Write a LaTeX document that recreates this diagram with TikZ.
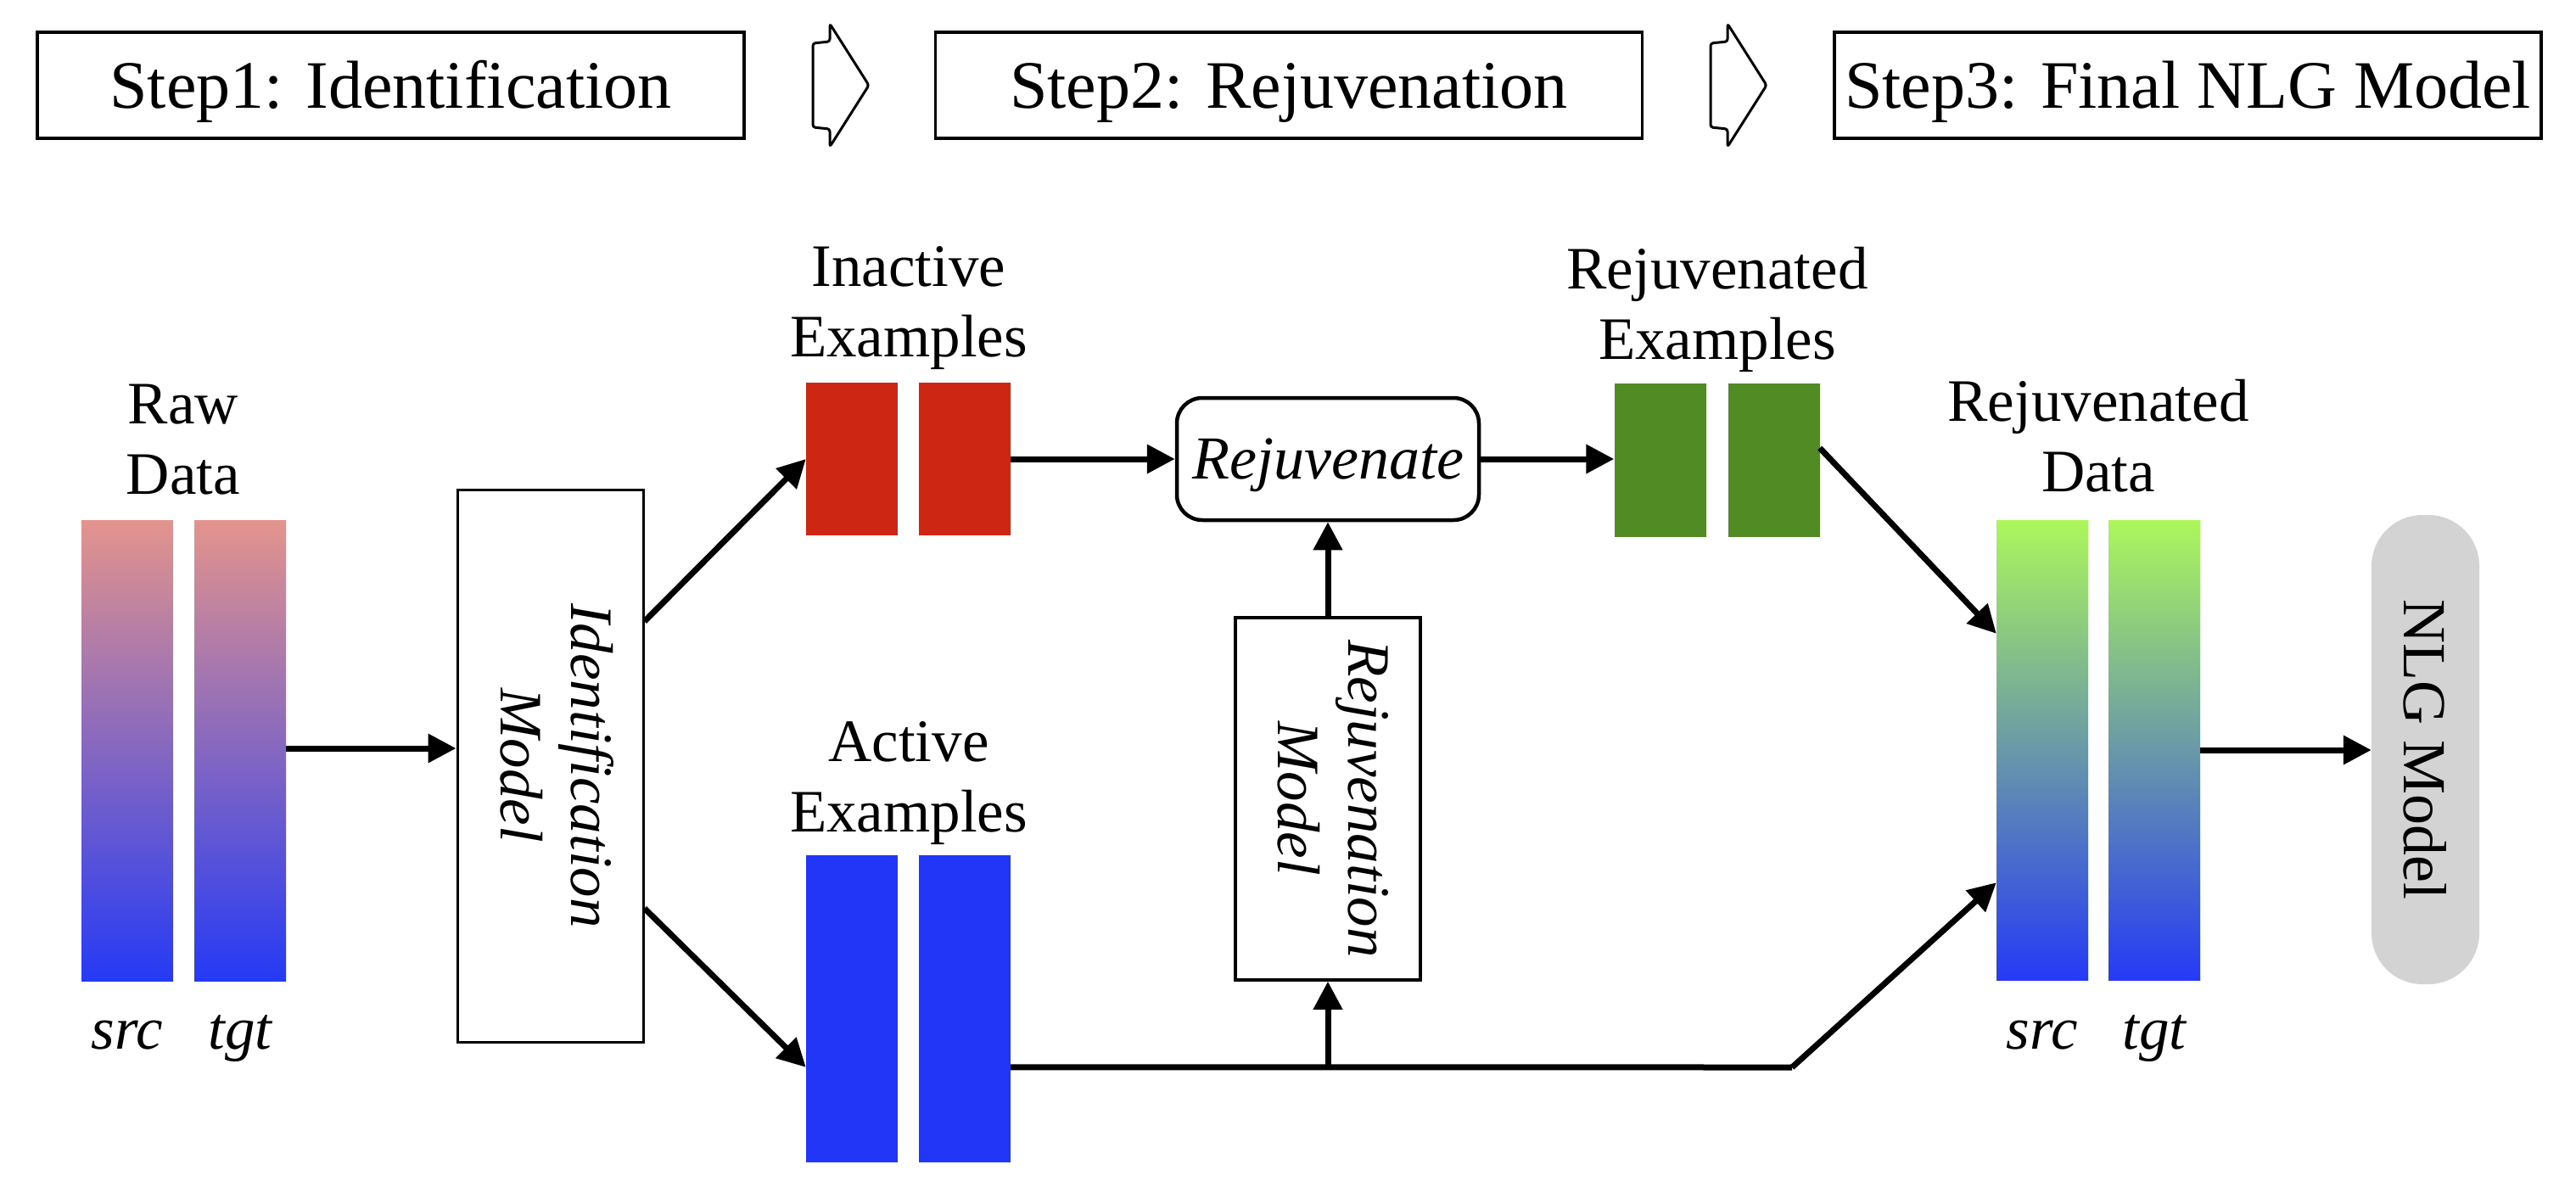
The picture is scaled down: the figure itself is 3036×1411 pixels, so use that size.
\documentclass[tikz,border=0pt]{standalone}
\usepackage{fontspec}
\setmainfont{Liberation Serif}
\usetikzlibrary{arrows.meta,calc}
\definecolor{inactred}{RGB}{205,39,20}
\definecolor{actblue}{RGB}{34,54,248}
\definecolor{rejgreen}{RGB}{80,140,35}
\definecolor{rawtop}{RGB}{228,148,140}
\definecolor{databot}{RGB}{37,58,245}
\definecolor{rejtop}{RGB}{172,247,92}
\definecolor{nlggray}{RGB}{211,211,211}
\begin{document}
\begin{tikzpicture}[x=1pt,y=-1pt,
  stepbox/.style={draw, line width=3.5pt, minimum width=833pt, minimum height=125pt,
    inner sep=0pt, font=\fontsize{80}{96}\selectfont, text height=53pt, text depth=0pt},
  steparrow/.style={draw, line width=3pt, line join=round},
  lbl/.style={font=\fontsize{71}{83}\selectfont, align=center, inner sep=0pt, anchor=base},
  ilbl/.style={lbl, font=\fontsize{71}{83}\selectfont\itshape},
  bar/.style={minimum width=108pt, inner sep=0pt, draw=none},
  modelbox/.style={draw, inner sep=0pt, font=\fontsize{71}{83}\selectfont\itshape},
  conn/.style={line width=7pt, -{Triangle[length=33pt,width=33pt]}},
  plainline/.style={line width=7pt}]
\useasboundingbox (0,0) rectangle (3036,1411);

% ---- step headers ----
\node[stepbox] (step1) at (460.5,100.5) {Step1: Identification};
\node[stepbox] (step2) at (1519,100.5) {Step2: Rejuvenation};
\node[stepbox] (step3) at (2578.5,100.5) {Step3: Final NLG Model};

\foreach \ax in {958,2016}{
  \draw[steparrow, rounded corners=3pt]
    (\ax+20,28) -- (\ax+66,100.5) -- (\ax+20,173) -- (\ax+20,152) -- (\ax,150)
    -- (\ax,51) -- (\ax+20,49) -- cycle;
}

% ---- raw data ----
\node[bar, minimum height=543pt, top color=rawtop, bottom color=databot] (rawsrc) at (150,884.5) {};
\node[bar, minimum height=543pt, top color=rawtop, bottom color=databot] (rawtgt) at (283,884.5) {};
\node[lbl] (rawlbl) at (216,582) {Raw\\Data};
\node[ilbl] (rawsrclbl) at (150,1236) {src};
\node[ilbl] (rawtgtlbl) at (283,1236) {tgt};

% ---- identification model ----
\node[modelbox, line width=3pt, minimum width=219pt, minimum height=651pt] (ident) at (648.5,902.5)
  {\rotatebox{-90}{\begin{tabular}{@{}c@{}}Identification\\Model\end{tabular}}};

% ---- inactive / active examples ----
\node[bar, minimum height=180pt, fill=inactred] (inasrc) at (1004,541) {};
\node[bar, minimum height=180pt, fill=inactred] (inatgt) at (1137,541) {};
\node[lbl] (inalbl) at (1071,420) {Inactive\\Examples};

\node[bar, minimum height=362pt, fill=actblue] (actsrc) at (1004,1189) {};
\node[bar, minimum height=362pt, fill=actblue] (acttgt) at (1137,1189) {};
\node[lbl] (actlbl) at (1071,980) {Active\\Examples};

% ---- rejuvenation ----
\node[draw, line width=4.5pt, rounded corners=30pt, minimum width=356pt, minimum height=144pt,
  inner sep=0pt, font=\fontsize{72}{84}\selectfont\itshape, text height=47pt, text depth=0pt]
  (rejuv) at (1565,541) {Rejuvenate};
\node[modelbox, line width=3.5pt, minimum width=218pt, minimum height=427pt] (rejmodel) at (1565,941.5)
  {\rotatebox{-90}{\begin{tabular}{@{}c@{}}Rejuvenation\\Model\end{tabular}}};

\node[bar, minimum height=181pt, fill=rejgreen] (rgsrc) at (1956.5,542.5) {};
\node[bar, minimum height=181pt, fill=rejgreen] (rgtgt) at (2090.5,542.5) {};
\node[lbl] (rglbl) at (2024,423) {Rejuvenated\\Examples};

% ---- rejuvenated data ----
\node[bar, minimum height=542pt, top color=rejtop, bottom color=databot] (rdsrc) at (2407,884) {};
\node[bar, minimum height=542pt, top color=rejtop, bottom color=databot] (rdtgt) at (2539,884) {};
\node[lbl] (rdlbl) at (2473,579) {Rejuvenated\\Data};
\node[ilbl] (rdsrclbl) at (2407,1236) {src};
\node[ilbl] (rdtgtlbl) at (2539,1236) {tgt};

% ---- NLG model ----
\node[fill=nlggray, rounded corners=60pt, minimum width=127pt, minimum height=553pt, inner sep=0pt,
  font=\fontsize{72}{84}\selectfont] (nlg) at (2858.5,883.5) {\rotatebox{-90}{NLG Model}};

% ---- connectors ----
\draw[conn] (rawtgt.east |- 0,882) -- (ident.west |- 0,882);
\draw[conn] ($(ident.north east)!0.24!(ident.south east)$) -- (inasrc.west);
\draw[conn] ($(ident.north east)!0.757!(ident.south east)$) -- ($(actsrc.north west)!0.69!(actsrc.south west)$);
\draw[conn] (inatgt.east) -- (inatgt.east -| rejuv.west);
\draw[conn] (rejuv.east) -- (rejuv.east -| rgsrc.west);
\draw[conn] ($(rgtgt.north east)!0.42!(rgtgt.south east)$) -- ($(rdsrc.north west)!0.247!(rdsrc.south west)$);

\coordinate (actout) at ($(acttgt.north east)!0.69!(acttgt.south east)$);
\coordinate (bend) at (2112,1258);
\coordinate (branch) at (rejmodel.south |- actout);
\draw[plainline, line join=round] (actout) -- (bend);
\draw[conn] (bend) -- ($(rdsrc.north west)!0.788!(rdsrc.south west)$);
\draw[conn] (branch) -- (rejmodel.south);
\draw[conn] (rejmodel.north) -- (rejuv.south);
\draw[conn] (rdtgt.east) -- (rdtgt.east -| nlg.west);
\end{tikzpicture}
\end{document}
